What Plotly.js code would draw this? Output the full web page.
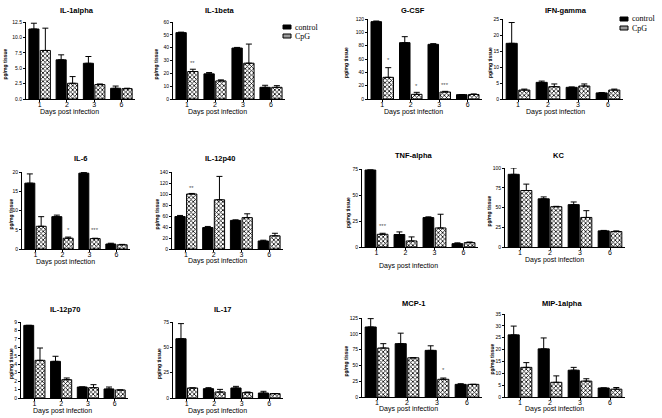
<!DOCTYPE html>
<html><head><meta charset="utf-8">
<script src="https://cdn.plot.ly/plotly-3.0.1.min.js"></script>
<style>html,body{margin:0;padding:0;background:#fff}</style>
</head><body><div id="chart" style="width:662px;height:418px"></div>
<script>
const days = ['1','2','3','6'];
const cytokines = ['IL-1alpha','IL-1beta','G-CSF','IFN-gamma','IL-6','IL-12p40','TNF-alpha','KC','IL-12p70','IL-17','MCP-1','MIP-1alpha'];
const seriesNames = ['control','CpG'];
const xTitle = 'Days post infection';
const yTitle = 'pg/mg tissue';

// mean values (control / CpG) and upper error (SEM) per cytokine, days 1,2,3,6
const il1aControl = [11.36, 6.36, 5.8, 1.74];    const il1aControlErr = [0.94, 0.81, 1.1, 0.36];
const il1aCpG     = [7.88, 2.55, 2.34, 1.68];    const il1aCpGErr     = [3.62, 1.09, 0.1, 0.07];
const il1bControl = [51.7, 19.6, 39.7, 9.1];     const il1bControlErr = [0.4, 1.0, 0.5, 1.6];
const il1bCpG     = [21.4, 14.1, 27.9, 9.1];     const il1bCpGErr     = [1.8, 0.8, 14.9, 1.3];
const gcsfControl = [116, 84.5, 82, 6.5];        const gcsfControlErr = [1, 9, 1, 0.2];
const gcsfCpG     = [32.5, 7, 10.5, 6.8];        const gcsfCpGErr     = [14.5, 3, 1, 0.8];
const ifngControl = [17.4, 5.2, 3.65, 1.9];      const ifngControlErr = [6.5, 0.4, 0.1, 0.1];
const ifngCpG     = [2.8, 3.85, 4.06, 2.8];      const ifngCpGErr     = [0.3, 0.85, 0.64, 0.3];
const il6Control  = [17.1, 8.4, 19.7, 1.3];      const il6ControlErr  = [2.4, 0.4, 0.2, 0.2];
const il6CpG      = [5.9, 2.8, 2.7, 1.1];        const il6CpGErr      = [2.5, 0.3, 0.1, 0.1];
const p40Control  = [59, 39, 52, 14.6];          const p40ControlErr  = [2, 2, 1, 1.4];
const p40CpG      = [100, 89.5, 57, 24];         const p40CpGErr      = [1, 42.5, 7, 4.6];
const tnfControl  = [74, 12, 28.3, 3.2];         const tnfControlErr  = [0, 2.5, 0.7, 0.8];
const tnfCpG      = [12.2, 5.8, 18.3, 4.2];      const tnfCpGErr      = [1, 3.9, 13.2, 0.6];
const kcControl   = [92, 61, 53.6, 20.4];        const kcControlErr   = [8, 2.4, 3.4, 0.6];
const kcCpG       = [71.5, 51, 37.4, 19.6];      const kcCpGErr       = [8.1, 0.5, 8.6, 0.8];
const p70Control  = [8.6, 4.34, 1.3, 1.07];      const p70ControlErr  = [0, 0.6, 0, 0.23];
const p70CpG      = [4.46, 2.17, 1.22, 0.95];    const p70CpGErr      = [1.46, 0.2, 0.36, 0];
const il17Control = [58.5, 9.2, 9.9, 4.9];       const il17ControlErr = [14.9, 1, 1.6, 1.7];
const il17CpG     = [9.9, 5.9, 5.3, 4.3];        const il17CpGErr     = [0, 2.6, 0.6, 0];
const mcpControl  = [110.8, 84.4, 73.8, 20];     const mcpControlErr  = [13.2, 16.6, 7.2, 1];
const mcpCpG      = [77.5, 62, 28, 20];          const mcpCpGErr      = [6.9, 0, 2, 0];
const mipControl  = [26.2, 20.3, 11.3, 3.8];     const mipControlErr  = [3.7, 4.6, 1.2, 0];
const mipCpG      = [12.5, 6.2, 6.7, 3.3];       const mipCpGErr      = [2, 2.7, 1, 0.7];

// significance marks on CpG bars (label, y value)
const il1bSig = ['**', '', '', ''];     const il1bSigY = [28, 0, 0, 0];
const gcsfSig = ['*', '*', '***', ''];  const gcsfSigY = [58, 20, 21, 0];
const il6Sig  = ['', '*', '***', ''];   const il6SigY  = [0, 5, 5, 0];
const p40Sig  = ['**', '', '', ''];     const p40SigY  = [111, 0, 0, 0];
const tnfSig  = ['***', '', '', ''];    const tnfSigY  = [20, 0, 0, 0];
const mcpSig  = ['', '', '*', ''];      const mcpSigY  = [0, 0, 42, 0];

const yMax  = [12.5, 60, 120, 25, 20, 140, 75, 100, 9, 75, 125, 35];
const yStep = [2.5, 10, 20, 5, 5, 20, 25, 25, 1, 25, 25, 5];

const panels = [
  [il1aControl, il1aControlErr, il1aCpG, il1aCpGErr, null, null],
  [il1bControl, il1bControlErr, il1bCpG, il1bCpGErr, il1bSig, il1bSigY],
  [gcsfControl, gcsfControlErr, gcsfCpG, gcsfCpGErr, gcsfSig, gcsfSigY],
  [ifngControl, ifngControlErr, ifngCpG, ifngCpGErr, null, null],
  [il6Control, il6ControlErr, il6CpG, il6CpGErr, il6Sig, il6SigY],
  [p40Control, p40ControlErr, p40CpG, p40CpGErr, p40Sig, p40SigY],
  [tnfControl, tnfControlErr, tnfCpG, tnfCpGErr, tnfSig, tnfSigY],
  [kcControl, kcControlErr, kcCpG, kcCpGErr, null, null],
  [p70Control, p70ControlErr, p70CpG, p70CpGErr, null, null],
  [il17Control, il17ControlErr, il17CpG, il17CpGErr, null, null],
  [mcpControl, mcpControlErr, mcpCpG, mcpCpGErr, mcpSig, mcpSigY],
  [mipControl, mipControlErr, mipCpG, mipCpGErr, null, null]
];

// ---------- layout geometry (pixels) ----------
const W = 662, H = 418;
// [x0, x1, yTopTick, yZero]
const boxes = [
  [26,135,22,99],[173,285,22,99],[368,482,19,99],[503,623,19,99],
  [22,130,172,249],[172,283,172,249],[362,478,169,247],[505,625,168,247],
  [21,128,322,398],[173,283,322,398],[362,482,318,397],[505,625,314,397]
];
const titlePos = [[77,10],[220,10],[413,10],[566,10],[80,158],[220,158],[413,155],[558,155],[65,309],[223,309],[413,303],[562,303]];
const xtPos = [[69,112],[218,112],[413,112],[555,112],[65,262],[218,261],[408,266],[554,260],[62,411],[218,411],[408,409],[554,409]];
const ylX = [5,156,346,490,10,156,348,489,11,159,345,491];

const px = v => v / W;
const py = v => 1 - v / H;

const traces = [];
const layout = {
  width: W, height: H,
  margin: {l:0, r:0, t:0, b:0},
  paper_bgcolor: '#fff', plot_bgcolor: '#fff',
  barmode: 'group', bargap: 0.16, bargroupgap: 0.12,
  showlegend: false,
  font: {family: 'Liberation Sans, Arial, sans-serif', color: '#000'},
  annotations: [], shapes: []
};

panels.forEach((p, i) => {
  const n = i + 1;
  const xa = 'x' + (n === 1 ? '' : n), ya = 'y' + (n === 1 ? '' : n);
  const xk = 'xaxis' + (n === 1 ? '' : n), yk = 'yaxis' + (n === 1 ? '' : n);
  const errStyle = (arr) => ({type: 'data', symmetric: false, array: arr, arrayminus: arr.map(() => 0),
    color: '#000', thickness: 1, width: 3});
  traces.push({
    type: 'bar', x: days, y: p[0], name: seriesNames[0], xaxis: xa, yaxis: ya,
    marker: {color: '#000', line: {color: '#000', width: 1}},
    error_y: errStyle(p[1]), cliponaxis: false, hoverinfo: 'y'
  });
  traces.push({
    type: 'bar', x: days, y: p[2], name: seriesNames[1], xaxis: xa, yaxis: ya,
    marker: {color: '#fff', line: {color: '#000', width: 1},
      pattern: {shape: 'x', fgcolor: '#000', bgcolor: '#fff', size: 3, solidity: 0.45}},
    error_y: errStyle(p[3]), cliponaxis: false, hoverinfo: 'y'
  });
  const b = boxes[i];
  layout[xk] = {
    domain: [px(b[0]), px(b[1])], anchor: ya, type: 'category', range: [-0.5, 3.5],
    showline: true, linecolor: '#000', linewidth: 1, ticks: 'outside', ticklen: 2, tickwidth: 1,
    tickcolor: '#000', showgrid: false, zeroline: false, fixedrange: true, ticklabelstandoff: -3,
    tickfont: {size: 7, family: 'Liberation Sans, Arial, sans-serif'}
  };
  layout[yk] = {
    domain: [py(b[3]), py(b[2])], anchor: xa, range: [0, yMax[i]], dtick: yStep[i], tick0: 0,
    tickformat: yStep[i] === 2.5 ? '.1f' : '',
    showline: true, linecolor: '#000', linewidth: 1, ticks: 'outside', ticklen: 2, tickwidth: 1,
    tickcolor: '#000', showgrid: false, zeroline: false, fixedrange: true, ticklabelstandoff: 0,
    tickfont: {size: 5, family: 'Liberation Sans, Arial, sans-serif'}
  };
  // panel title
  layout.annotations.push({xref: 'paper', yref: 'paper', x: px(titlePos[i][0]), y: py(titlePos[i][1]),
    text: '<b>' + cytokines[i] + '</b>', showarrow: false, xanchor: 'center', yanchor: 'middle',
    font: {size: 7.5, family: 'Liberation Sans, Arial, sans-serif'}});
  // x title
  layout.annotations.push({xref: 'paper', yref: 'paper', x: px(xtPos[i][0]), y: py(xtPos[i][1]),
    text: xTitle, showarrow: false, xanchor: 'center', yanchor: 'middle',
    font: {size: 7, family: 'Liberation Sans, Arial, sans-serif'}});
  // y title
  layout.annotations.push({xref: 'paper', yref: 'paper', x: px(ylX[i]), y: py((b[2] + b[3]) / 2 + 4),
    text: '<b>' + yTitle + '</b>', showarrow: false, textangle: -90, xanchor: 'center', yanchor: 'middle',
    font: {size: 5, family: 'Liberation Sans, Arial, sans-serif'}});
  // significance marks
  if (p[4]) {
    p[4].forEach((s, k) => {
      if (!s) return;
      layout.annotations.push({xref: xa, yref: ya, x: k + 0.21, y: p[5][k], text: s, showarrow: false,
        xanchor: 'center', yanchor: 'middle', font: {size: 6, color: '#555'}});
    });
  }
});

// legends (drawn at IL-1beta and IFN-gamma)
const legendAt = [[283, 27], [620, 19]];
legendAt.forEach(([lx, ly]) => {
  seriesNames.forEach((nm, k) => {
    const yy = ly + k * 9;
    layout.shapes.push({type: 'rect', xref: 'paper', yref: 'paper',
      x0: px(lx), x1: px(lx + 8), y0: py(yy + 2), y1: py(yy - 2),
      fillcolor: k === 0 ? '#000' : '#9a9a9a', line: {color: '#000', width: 1}});
    layout.annotations.push({xref: 'paper', yref: 'paper', x: px(lx + 10), y: py(yy),
      text: nm, showarrow: false, xanchor: 'left', yanchor: 'middle',
      font: {size: 8, family: 'Liberation Serif, Times New Roman, serif'}});
  });
});

Plotly.newPlot('chart', traces, layout, {staticPlot: true, displayModeBar: false});
</script>
</body></html>
